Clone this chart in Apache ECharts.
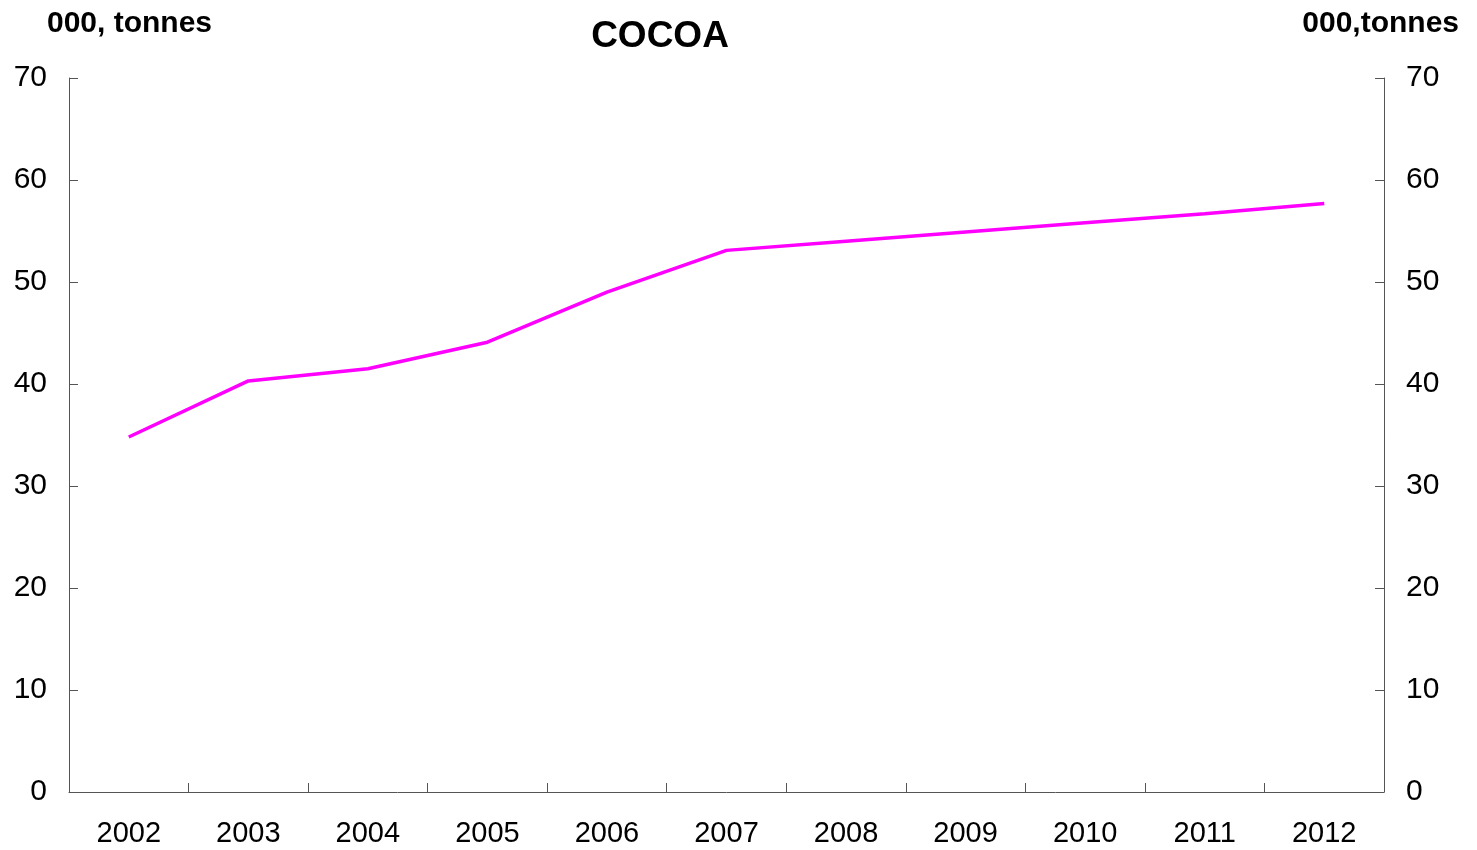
<!DOCTYPE html>
<html>
<head>
  <meta charset="utf-8">
  <title>COCOA</title>
  <style>
    html, body { margin: 0; padding: 0; background: #fff; }
    #chart { width: 1477px; height: 850px; }
  </style>
  <script src="https://cdn.jsdelivr.net/npm/echarts@6/dist/echarts.min.js"></script>
</head>
<body>
  <div id="chart"></div>
  <script>
    // years on the x axis
    var years = ['2002', '2003', '2004', '2005', '2006', '2007', '2008', '2009', '2010', '2011', '2012'];
    // cocoa, thousand tonnes
    var cocoa = [34.8, 40.3, 41.5, 44.1, 49.0, 53.1, 54.0, 54.9, 55.8, 56.7, 57.7];

    var chart = echarts.init(document.getElementById('chart'));
    var font = 'Liberation Sans, Arial, sans-serif';
    var axisColor = '#555';

    var yAxisBase = {
      type: 'value',
      min: 0,
      max: 70,
      interval: 10,
      splitLine: { show: false },
      axisLine: { show: true, lineStyle: { color: axisColor, width: 1 } },
      axisTick: { show: true, inside: true, length: 9, lineStyle: { color: axisColor } },
      axisLabel: { color: '#000', fontSize: 30, fontFamily: font, margin: 22 }
    };

    var option = {
      backgroundColor: '#fff',
      animation: false,
      title: [
        {
          text: 'COCOA', left: 655, top: 13, textAlign: 'center',
          textStyle: { fontSize: 37, fontWeight: 'bold', fontFamily: font, color: '#000' }
        },
        {
          text: '000, tonnes', left: 42, top: 4,
          textStyle: { fontSize: 30, fontWeight: 'bold', fontFamily: font, color: '#000' }
        },
        {
          text: '000,tonnes', right: 13, top: 4,
          textStyle: { fontSize: 30, fontWeight: 'bold', fontFamily: font, color: '#000' }
        }
      ],
      grid: { left: 69, right: 93, top: 78, bottom: 58, containLabel: false },
      xAxis: {
        type: 'category',
        data: years,
        boundaryGap: true,
        axisLine: { show: true, lineStyle: { color: axisColor, width: 1 } },
        axisTick: { show: true, inside: true, length: 9, alignWithLabel: false, lineStyle: { color: axisColor } },
        axisLabel: { color: '#000', fontSize: 29, fontFamily: font, margin: 27 }
      },
      yAxis: [
        Object.assign({}, yAxisBase, { position: 'left' }),
        Object.assign({}, yAxisBase, { position: 'right' })
      ],
      series: [{
        type: 'line',
        data: cocoa,
        yAxisIndex: 0,
        symbol: 'none',
        lineStyle: { color: '#ff00ff', width: 3.5 }
      }]
    };

    chart.setOption(option);
  </script>
</body>
</html>
